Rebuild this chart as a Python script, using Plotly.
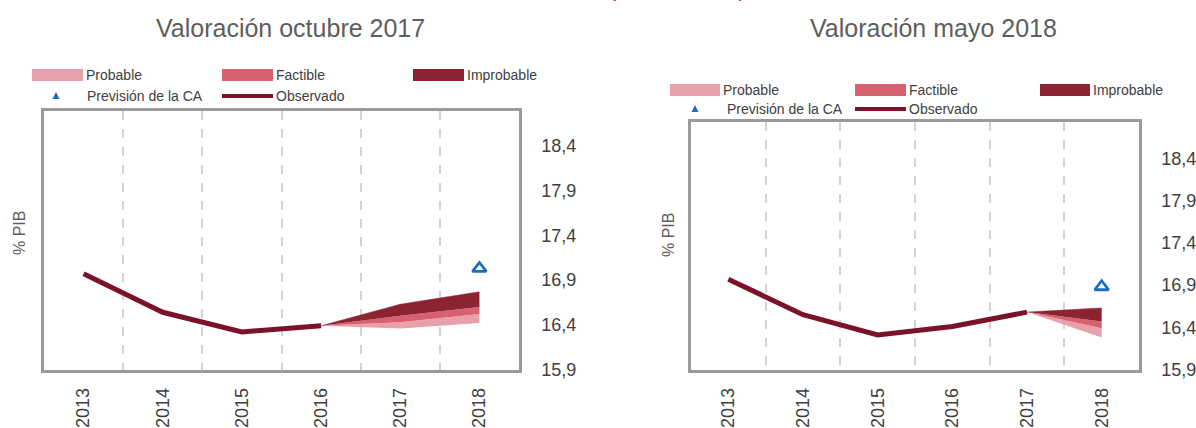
import plotly.graph_objects as go

W, H = 1196, 428

# ---------------- data ----------------
years = ["2013", "2014", "2015", "2016", "2017", "2018"]

# Left panel: Valoración octubre 2017
obs_oct_years = ["2013", "2014", "2015", "2016"]
obs_oct = [16.97, 16.54, 16.32, 16.39]
fan_oct_years = ["2016", "2017", "2018"]
oct_prob_low = [16.39, 16.36, 16.42]
oct_fact_low = [16.39, 16.43, 16.52]
oct_impr_low = [16.39, 16.50, 16.60]
oct_impr_high = [16.39, 16.63, 16.77]
oct_ca_year = ["2018"]
oct_ca = [17.03]

# Right panel: Valoración mayo 2018
obs_may_years = ["2013", "2014", "2015", "2016", "2017"]
obs_may = [16.97, 16.55, 16.31, 16.41, 16.58]
fan_may_years = ["2017", "2018"]
may_prob_low = [16.58, 16.28]
may_fact_low = [16.58, 16.39]
may_impr_low = [16.58, 16.47]
may_impr_high = [16.58, 16.63]
may_ca_year = ["2018"]
may_ca = [16.88]

y_ticks = [15.9, 16.4, 16.9, 17.4, 17.9, 18.4]

titles = ["Valoración octubre 2017", "Valoración mayo 2018"]
legend_labels = ["Probable", "Factible", "Improbable", "Previsión de la CA", "Observado"]

# ---------------- style ----------------
C_PROB = "#E8A1AB"
C_FACT = "#D8616F"
C_IMPR = "#8C2333"
C_OBS = "#7A1329"
C_CA = "#1F6DB8"
FONT = "Liberation Sans"
TXT = "#404040"


def px(x):
    return x / W


def py(y):
    return 1 - y / H


fig = go.Figure()


def add_panel(xa, ya, oy, ov, fy, plow, flow, ilow, ihigh, cay, cav):
    common = dict(xaxis=xa, yaxis=ya, showlegend=False, hoverinfo="skip")
    fig.add_trace(go.Scatter(x=fy, y=plow, mode="lines", line=dict(width=0, color=C_PROB), **common))
    fig.add_trace(go.Scatter(x=fy, y=flow, mode="lines", line=dict(width=0, color=C_PROB),
                             fill="tonexty", fillcolor=C_PROB, **common))
    fig.add_trace(go.Scatter(x=fy, y=ilow, mode="lines", line=dict(width=0, color=C_FACT),
                             fill="tonexty", fillcolor=C_FACT, **common))
    fig.add_trace(go.Scatter(x=fy, y=ihigh, mode="lines", line=dict(width=0.5, color=C_IMPR),
                             fill="tonexty", fillcolor=C_IMPR, **common))
    fig.add_trace(go.Scatter(x=oy, y=ov, mode="lines", line=dict(width=5, color=C_OBS), **common))
    fig.add_trace(go.Scatter(x=cay, y=cav, mode="markers",
                             marker=dict(symbol="triangle-up-open", size=12, color=C_CA,
                                         line=dict(width=2.8, color=C_CA)), **common))


add_panel("x", "y", obs_oct_years, obs_oct, fan_oct_years, oct_prob_low, oct_fact_low,
          oct_impr_low, oct_impr_high, oct_ca_year, oct_ca)
add_panel("x2", "y2", obs_may_years, obs_may, fan_may_years, may_prob_low, may_fact_low,
          may_impr_low, may_impr_high, may_ca_year, may_ca)

BOX = "#9A9A9A"
xaxis_common = dict(
    type="category", categoryorder="array", categoryarray=years,
    range=[-0.5, 5.5], tickson="boundaries", showgrid=True,
    gridcolor="#D3D3D3", griddash="dash", gridwidth=1.5,
    showline=True, mirror=True, linecolor=BOX, linewidth=2.5,
    tickangle=-90, ticks="", ticklabelstandoff=8, automargin=False,
    tickfont=dict(family=FONT, size=18, color=TXT), zeroline=False, fixedrange=True,
)
yaxis_common = dict(
    side="right", tickvals=y_ticks, tickformat=".1f", showgrid=False, zeroline=False,
    showline=True, mirror=True, linecolor=BOX, linewidth=2.5, automargin=False,
    ticks="outside", ticklen=16, tickcolor="rgba(0,0,0,0)",
    tickfont=dict(family=FONT, size=18, color=TXT), fixedrange=True,
)

fig.update_layout(
    width=W, height=H, margin=dict(l=0, r=0, t=0, b=0, autoexpand=False),
    paper_bgcolor="white", plot_bgcolor="white", separators=",.",
    showlegend=False,
    xaxis=dict(domain=[px(44), px(519)], anchor="y", **xaxis_common),
    yaxis=dict(domain=[py(370), py(111)], range=[15.895, 18.79], anchor="x", **yaxis_common),
    xaxis2=dict(domain=[px(691), px(1139)], anchor="y2", **xaxis_common),
    yaxis2=dict(domain=[py(370), py(122)], range=[15.895, 18.83], anchor="x2", **yaxis_common),
)

annotations = []
shapes = []

# titles
for cx, t in zip([290, 933], titles):
    annotations.append(dict(x=px(cx), y=py(28), xref="paper", yref="paper", text=t, showarrow=False,
                            xanchor="center", yanchor="middle",
                            font=dict(family=FONT, size=25, color="#5E5E5E")))

# y-axis titles
for cx, cy in [(19, 233), (668, 235)]:
    annotations.append(dict(x=px(cx), y=py(cy), xref="paper", yref="paper", text="% PIB", showarrow=False,
                            textangle=-90, xanchor="center", yanchor="middle",
                            font=dict(family=FONT, size=16, color="#5E5E5E")))

# red continuation marks at top (only their lower ends are visible)
annotations.append(dict(x=px(677), y=py(3), xref="paper", yref="paper",
                        text="(" + "&nbsp;" * 20 + ")",
                        showarrow=False, xanchor="center", yanchor="bottom",
                        font=dict(family=FONT, size=22, color="#B0182F")))

# legends
legend_layouts = [
    dict(row1=75, row2=96, sw=[(32, 83), (222, 273), (413, 464)], tri=56, tri_text=85, obs=(222, 273)),
    dict(row1=90, row2=109, sw=[(670, 720), (855, 906), (1040, 1090)], tri=695, tri_text=725, obs=(855, 906)),
]
for L in legend_layouts:
    for (x0, x1), col, lab in zip(L["sw"], [C_PROB, C_FACT, C_IMPR], legend_labels[:3]):
        shapes.append(dict(type="rect", xref="paper", yref="paper", x0=px(x0), x1=px(x1),
                           y0=py(L["row1"] - 6), y1=py(L["row1"] + 6), fillcolor=col,
                           line=dict(width=0)))
        annotations.append(dict(x=px(x1 + 1), y=py(L["row1"]), xref="paper", yref="paper", text=lab,
                                showarrow=False, xanchor="left", yanchor="middle",
                                font=dict(family=FONT, size=14, color=TXT)))
    # CA triangle
    shapes.append(dict(type="path", xref="paper", yref="paper",
                       path=f"M {px(L['tri']-3.5)},{py(L['row2']+3)} L {px(L['tri']+3.5)},{py(L['row2']+3)} L {px(L['tri'])},{py(L['row2']-4)} Z",
                       fillcolor=C_CA, line=dict(width=0)))
    annotations.append(dict(x=px(L["tri_text"]), y=py(L["row2"]), xref="paper", yref="paper",
                            text=legend_labels[3], showarrow=False, xanchor="left", yanchor="middle",
                            font=dict(family=FONT, size=14, color=TXT)))
    x0, x1 = L["obs"]
    shapes.append(dict(type="line", xref="paper", yref="paper", x0=px(x0), x1=px(x1),
                       y0=py(L["row2"]), y1=py(L["row2"]), line=dict(color=C_OBS, width=4)))
    annotations.append(dict(x=px(x1 + 1), y=py(L["row2"]), xref="paper", yref="paper",
                            text=legend_labels[4], showarrow=False, xanchor="left", yanchor="middle",
                            font=dict(family=FONT, size=14, color=TXT)))

fig.update_layout(annotations=annotations, shapes=shapes)

fig.write_html("out.html", config={"displayModeBar": False},
               post_script="document.body.style.margin='0';document.body.style.overflow='hidden';")
